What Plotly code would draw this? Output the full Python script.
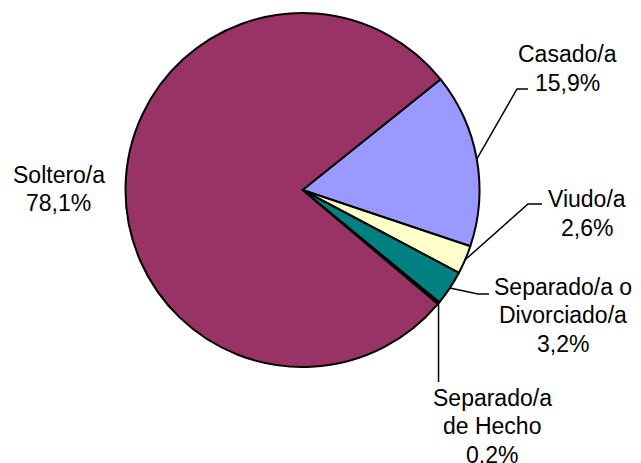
import math
import plotly.graph_objects as go

# ---- data ----
categories = ["Casado/a", "Viudo/a", "Separado/a o<br>Divorciado/a", "Separado/a<br>de Hecho", "Soltero/a"]
values = [15.9, 2.6, 3.2, 0.2, 78.1]
pct_text = ["15,9%", "2,6%", "3,2%", "0,2%", "78,1%"]
colors = ["#9999FF", "#FFFFCC", "#008080", "#3A1030", "#993366"]

# ---- layout constants (page pixels) ----
PAGE_W, PAGE_H = 641, 463
OFF = 8  # default body margin of the html page
W, H = PAGE_W - OFF, PAGE_H - OFF
CX, CY, R = 302.5, 190.0, 177.0
START_DEG = 38.7  # angle (ccw from +x) where the first slice starts
label_pos = [(567, 68.5), (587, 213.5), (563, 315), (492, 426), (58.5, 189)]
LINE_SP = 28.5
# leader line elbows / ends for each slice (None = no leader)
leader_pts = [
    [(517, 89), (528, 89)],
    [(528, 204), (542, 204)],
    [(478, 294), (489, 294)],
    [("vertical", 382)],
    None,
]
FONT = "Liberation Sans, Arial, sans-serif"
FSIZE = 23


def px(x, y):
    return (x - OFF) / W, 1 - (y - OFF) / H


fig = go.Figure()
x0, y1 = px(CX - R, CY - R)
x1, y0 = px(CX + R, CY + R)
fig.add_trace(go.Pie(
    labels=categories,
    values=values,
    sort=False,
    direction="clockwise",
    rotation=90 - START_DEG,
    marker=dict(colors=colors, line=dict(color="black", width=2)),
    textinfo="none",
    hoverinfo="label+percent",
    domain=dict(x=[x0, x1], y=[y0, y1]),
))

total = sum(values)
cum = 0.0
shapes = []
annotations = []
for i, v in enumerate(values):
    mid = START_DEG - 360 * (cum + v / 2) / total
    cum += v
    ex = CX + R * math.cos(math.radians(mid))
    ey = CY - R * math.sin(math.radians(mid))
    pts = leader_pts[i]
    if pts is not None:
        path_pts = [(ex, ey)]
        for p in pts:
            if p[0] == "vertical":
                path_pts.append((ex, p[1]))
            else:
                path_pts.append(p)
        path = ""
        for k, (x, y) in enumerate(path_pts):
            X, Y = px(x, y)
            path += ("M" if k == 0 else " L") + f" {X:.5f},{Y:.5f}"
        shapes.append(dict(type="path", path=path, xref="paper", yref="paper",
                           line=dict(color="black", width=1.5)))
    lines = categories[i].split("<br>") + [pct_text[i]]
    n = len(lines)
    cx_, cy_ = label_pos[i]
    for k, txt in enumerate(lines):
        lx, ly = px(cx_, cy_ + (k - (n - 1) / 2) * LINE_SP)
        annotations.append(dict(
            text=txt,
            x=lx, y=ly, xref="paper", yref="paper",
            xanchor="center", yanchor="middle", align="center",
            showarrow=False,
            font=dict(family=FONT, size=FSIZE, color="black"),
        ))

fig.update_layout(
    width=W, height=H,
    margin=dict(l=0, r=0, t=0, b=0),
    paper_bgcolor="white",
    plot_bgcolor="white",
    showlegend=False,
    shapes=shapes,
    annotations=annotations,
)

fig.write_html("out.html")
